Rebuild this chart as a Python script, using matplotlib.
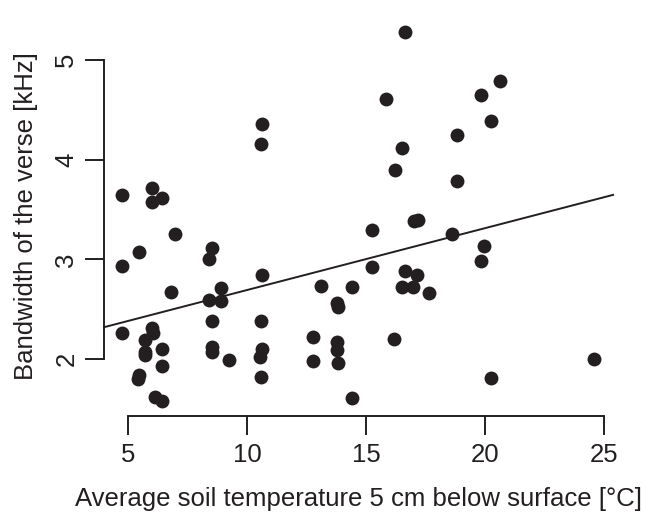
import matplotlib
matplotlib.use("Agg")
import matplotlib.pyplot as plt

# soil temperature (x) and bandwidth of the verse (y)
temp = [4.76, 6.0, 6.0, 6.44, 6.96, 8.53, 8.39, 4.76, 5.45, 10.64,
        6.81, 8.9, 8.39, 8.9, 4.76, 6.0, 6.05, 5.7, 5.7, 5.7,
        6.44, 6.44, 5.45, 5.42, 6.13, 6.44, 8.53, 8.53, 8.53, 9.24,
        10.59, 10.64, 10.55, 10.59, 10.64, 10.58, 13.1, 14.4, 13.77, 13.81,
        12.76, 12.76, 13.77, 13.77, 13.81, 16.19, 14.4, 16.53, 16.99, 17.66,
        16.64, 17.13, 15.25, 15.25, 16.53, 16.2, 18.81, 17.0, 17.2, 18.61,
        19.94, 19.83, 16.64, 15.85, 20.62, 19.85, 20.24, 18.81, 20.24, 24.6]
bandwidth = [3.65, 3.72, 3.58, 3.62, 3.25, 3.11, 3.0, 2.93, 3.07, 2.84,
             2.67, 2.71, 2.59, 2.58, 2.26, 2.31, 2.26, 2.19, 2.07, 2.04,
             2.1, 1.93, 1.84, 1.80, 1.62, 1.58, 2.38, 2.12, 2.07, 1.99,
             2.38, 2.1, 2.02, 1.82, 4.36, 4.16, 2.73, 2.72, 2.56, 2.52,
             2.22, 1.98, 2.17, 2.09, 1.96, 2.2, 1.61, 2.72, 2.72, 2.66,
             2.88, 2.84, 2.92, 3.29, 4.12, 3.9, 3.79, 3.38, 3.39, 3.25,
             3.13, 2.98, 5.28, 4.61, 4.79, 4.65, 4.39, 4.25, 1.81, 2.0]

# regression line
intercept = 2.073
slope = 0.062

xticks = [5, 10, 15, 20, 25]
yticks = [2, 3, 4, 5]

plt.rcParams['font.family'] = ['Liberation Sans', 'DejaVu Sans']
col = '#231f20'

fig = plt.figure(figsize=(6.46, 5.13), dpi=100)
ax = fig.add_axes([0.161, 0.189, 0.788, 0.778])

ax.scatter(temp, bandwidth, s=100, color=col, linewidths=0, zorder=3)

xlo, xhi = 3.99, 25.38
ax.set_xlim(xlo, xhi)
ax.set_ylim(1.43, 5.43)
ax.plot([xlo, xhi], [intercept + slope * xlo, intercept + slope * xhi],
        color=col, lw=1.4, clip_on=False)

for s in ['top', 'right']:
    ax.spines[s].set_visible(False)
ax.spines['left'].set_bounds(2, 5)
ax.spines['bottom'].set_bounds(5, 25)
for s in ['left', 'bottom']:
    ax.spines[s].set_linewidth(1.4)
    ax.spines[s].set_color(col)

ax.set_xticks(xticks)
ax.set_yticks(yticks)
ax.tick_params(direction='out', length=13.5, width=1.4, color=col,
               labelsize=18.5, labelcolor=col)
ax.tick_params(axis='x', pad=6)
ax.tick_params(axis='y', pad=5)
for lab in ax.get_yticklabels():
    lab.set_rotation(90)
    lab.set_va('center')

ax.set_xlabel('Average soil temperature 5 cm below surface [°C]',
              fontsize=18.5, color=col, labelpad=14)
ax.set_ylabel('Bandwidth of the verse [kHz]', fontsize=18.5, color=col,
              labelpad=12)

fig.savefig('out.png', dpi=100)
